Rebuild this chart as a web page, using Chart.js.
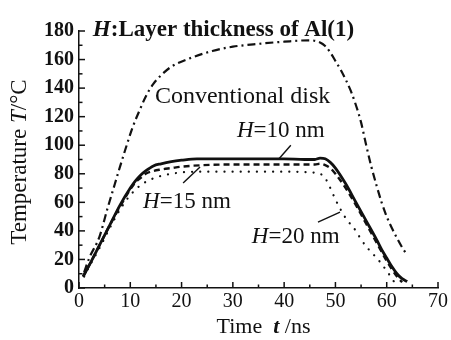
<!DOCTYPE html>
<html><head><meta charset="utf-8">
<script src="https://cdn.jsdelivr.net/npm/chart.js@4.4.1/dist/chart.umd.min.js"></script>
<style>html,body{margin:0;padding:0;background:#fff}</style>
</head><body>
<canvas id="c" width="451" height="340"></canvas>
<script>
// ---- data ----
const xTickValues = [0, 10, 20, 30, 40, 50, 60, 70];
const yTickValues = [0, 20, 40, 60, 80, 100, 120, 140, 160, 180];

const h10Time = [0.8, 2, 4, 6, 8, 10, 11, 12, 13, 14.5, 16, 18, 20, 23, 30, 40, 44, 46, 47, 48, 49, 50, 52, 54, 56, 58, 59, 60, 61, 62, 63, 64];
const h10Temp = [8, 16, 30, 44, 58, 70, 75, 79, 82, 85.5, 87, 88.5, 89.5, 90.5, 90.5, 90.5, 90, 90, 91, 90.5, 88, 84, 73, 60, 47, 34, 27, 21, 15, 10, 6.5, 4.5];

const h15Time = [0.8, 2, 4, 6, 8, 10, 11, 12, 13, 14, 16, 18, 20, 24, 30, 40, 46, 47, 48, 49, 50, 52, 54, 56, 58, 60, 62, 63];
const h15Temp = [8, 16, 30, 44, 57, 69, 74, 77, 80, 81.5, 83, 84, 85, 86, 86.5, 86.5, 86.5, 87, 86, 84, 80, 70, 58, 45, 32, 19, 8, 4];

const h20Time = [1, 2, 4, 6, 8, 10, 12, 14, 16, 18, 20, 25, 30, 40, 45, 47, 48, 49, 50, 52, 54, 55, 56.5, 58.3, 60.3, 61.3, 62.6];
const h20Temp = [8, 15, 28, 42, 55, 65, 72, 76, 78.5, 80, 81, 81.5, 81.5, 81.5, 81, 80, 77, 70, 62, 49, 40, 34, 27, 20, 10.5, 5, 2.5];

const convTime = [1, 2, 4, 5.5, 7, 8, 9.3, 10.5, 12, 13, 14.5, 16, 18, 21, 26, 30, 35, 40, 45, 47, 48, 49, 50, 51, 52, 53, 54, 55, 56, 57, 58, 59, 60, 61, 62, 63, 64];
const convTemp = [11, 21, 36, 55, 73, 85, 100, 113, 126, 134, 143, 149, 155, 160, 166, 169, 171, 172.5, 173.5, 172, 169.5, 165, 159, 153, 146, 138, 128, 116, 100, 85, 72, 60, 50, 42, 35, 28.5, 23];

const seriesNames = ['H=10 nm', 'H=15 nm', 'H=20 nm', 'Conventional disk'];

// ---- build ----
const pts = (xs, ys) => xs.map((x, i) => ({x, y: ys[i]}));
const SERIF = "'Liberation Serif', 'Times New Roman', serif";
const INK = '#111';

// annotation texts (anchor in data units, left/middle)
const notes = [
  {runs: [['H', 'italic bold'], [':Layer thickness of Al(1)', 'bold']], x: 2.7, y: 181, size: 23},
  {runs: [['Conventional disk', 'normal']], x: 14.8, y: 134, size: 24},
  {runs: [['H', 'italic'], ['=10 nm', 'normal']], x: 30.8, y: 110, size: 23},
  {runs: [['H', 'italic'], ['=15 nm', 'normal']], x: 12.5, y: 60, size: 23},
  {runs: [['H', 'italic'], ['=20 nm', 'normal']], x: 33.7, y: 35.5, size: 23}
];
const leaders = [
  [41.3, 100, 39.0, 90.5],
  [20.3, 73.5, 23.6, 84.7],
  [46.6, 46.2, 50.9, 53.2]
];

function drawRuns(ctx, runs, x, y, size) {
  let cx = x;
  for (const [t, st] of runs) {
    ctx.font = st + ' ' + size + 'px ' + SERIF;
    ctx.fillText(t, cx, y);
    cx += ctx.measureText(t).width;
  }
}
function runsWidth(ctx, runs, size) {
  let w = 0;
  for (const [t, st] of runs) { ctx.font = st + ' ' + size + 'px ' + SERIF; w += ctx.measureText(t).width; }
  return w;
}

const decor = {
  id: 'decor',
  afterDraw(chart) {
    const ctx = chart.ctx, xs = chart.scales.x, ys = chart.scales.y, a = chart.chartArea;
    ctx.save();
    ctx.strokeStyle = INK; ctx.lineWidth = 1.5;
    // inside tick marks
    for (let v = 0; v <= 180; v += 10) {
      const py = ys.getPixelForValue(v), len = v % 20 === 0 ? 6 : 3.5;
      ctx.beginPath(); ctx.moveTo(a.left, py); ctx.lineTo(a.left + len, py); ctx.stroke();
    }
    for (let v = 0; v <= 70; v += 5) {
      const px = xs.getPixelForValue(v), len = v % 10 === 0 ? 6 : 3.5;
      ctx.beginPath(); ctx.moveTo(px, a.bottom); ctx.lineTo(px, a.bottom - len); ctx.stroke();
    }
    // leaders
    ctx.lineWidth = 1.4;
    for (const [x1, y1, x2, y2] of leaders) {
      ctx.beginPath();
      ctx.moveTo(xs.getPixelForValue(x1), ys.getPixelForValue(y1));
      ctx.lineTo(xs.getPixelForValue(x2), ys.getPixelForValue(y2));
      ctx.stroke();
    }
    // texts
    ctx.fillStyle = INK; ctx.textBaseline = 'middle'; ctx.textAlign = 'left';
    for (const n of notes) drawRuns(ctx, n.runs, xs.getPixelForValue(n.x), ys.getPixelForValue(n.y), n.size);
    // x axis title
    const xt = [['Time  ', 'normal'], ['t', 'italic bold'], [' /ns', 'normal']];
    const xw = runsWidth(ctx, xt, 22);
    drawRuns(ctx, xt, (a.left + a.right) / 2 + 5 - xw / 2, 327, 22);
    // y axis title
    const yt = [['Temperature ', 'normal'], ['T', 'italic'], ['/°C', 'normal']];
    const yw = runsWidth(ctx, yt, 23);
    ctx.translate(20, 162); ctx.rotate(-Math.PI / 2);
    drawRuns(ctx, yt, -yw / 2, 0, 23);
    ctx.restore();
  }
};

const line = (label, data, width, dash, cap) => ({
  label, data, borderColor: INK, backgroundColor: INK, borderWidth: width,
  borderDash: dash, borderCapStyle: cap || 'butt', pointRadius: 0, fill: false,
  tension: 0, cubicInterpolationMode: 'monotone'
});

new Chart(document.getElementById('c'), {
  type: 'line',
  data: {
    datasets: [
      line(seriesNames[3], pts(convTime, convTemp), 2.2, [8, 4, 2, 4]),
      line(seriesNames[2], pts(h20Time, h20Temp), 2.2, [0.1, 8], 'round'),
      line(seriesNames[1], pts(h15Time, h15Temp), 2.4, [6, 4]),
      line(seriesNames[0], pts(h10Time, h10Temp), 2.8, [])
    ]
  },
  options: {
    responsive: false, animation: false, devicePixelRatio: 1,
    layout: {padding: {left: 0, top: 31, right: 13, bottom: 0}},
    plugins: {legend: {display: false}, tooltip: {enabled: false}},
    scales: {
      x: {
        type: 'linear', min: 0, max: 70,
        afterBuildTicks: s => { s.ticks = xTickValues.map(v => ({value: v})); },
        afterFit: s => { s.height = 52; },
        ticks: {color: INK, font: {family: SERIF, size: 20}, padding: 2, maxRotation: 0},
        grid: {display: false, drawTicks: false},
        border: {display: true, color: INK, width: 1.5}
      },
      y: {
        type: 'linear', min: 0, max: 180,
        afterBuildTicks: s => { s.ticks = yTickValues.map(v => ({value: v})); },
        afterFit: s => { s.width = 79; },
        ticks: {color: INK, font: {family: SERIF, size: 20, weight: 'bold'}, padding: 5},
        grid: {display: false, drawTicks: false},
        border: {display: true, color: INK, width: 1.5}
      }
    }
  },
  plugins: [decor]
});
</script>
</body></html>
